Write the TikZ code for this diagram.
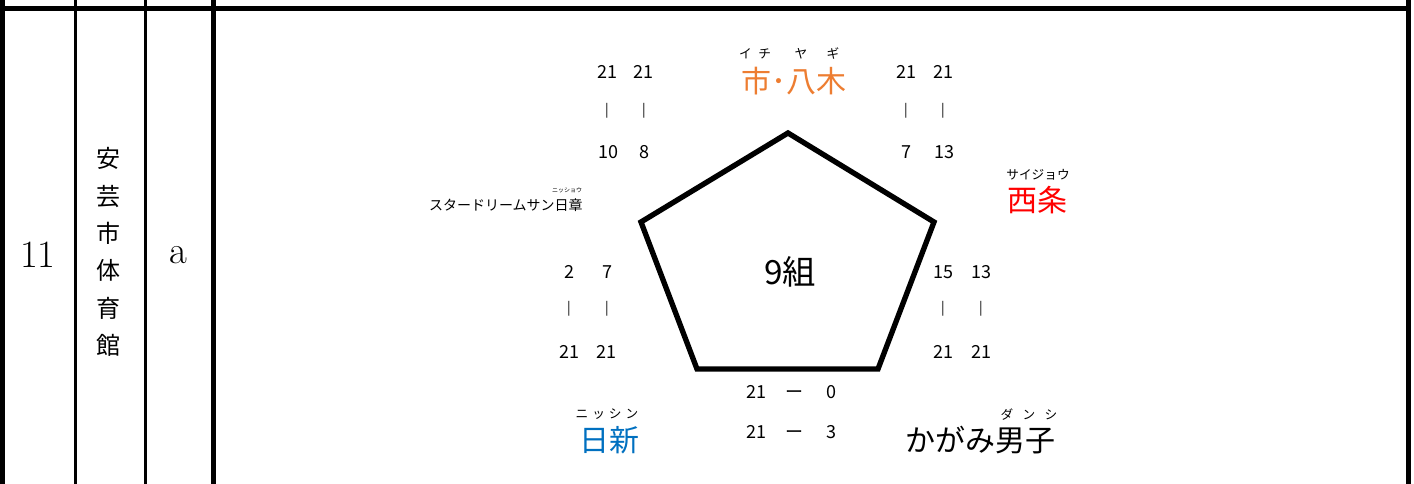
\documentclass[tikz,border=0pt]{standalone}
\usepackage{fontspec}
\newfontfamily\jpfont{Noto Sans CJK JP}
\definecolor{yagiorange}{HTML}{ED7D31}
\definecolor{saijored}{HTML}{FF0000}
\definecolor{nisshinblue}{HTML}{0070C0}
\newcommand{\rgap}[1]{\hspace{#1}}
\tikzset{%
  % Specifications for table rules and the pentagon:
            heavyrule/.style = {draw=black, line width=3.75pt},
            lightrule/.style = {draw=black, line width=2pt},
            pent/.style = {draw=black, line width=4pt, line join=miter},
  % Specifications for style of text nodes:
            cell/.style = {inner sep=0pt, font=\fontsize{29}{29}\selectfont},
            hall/.style = {inner sep=0pt, align=center,
                            font=\jpfont\fontsize{18}{28}\selectfont},
            group/.style = {inner sep=0pt, font=\jpfont\fontsize{25}{25}\selectfont},
            team/.style = {inner sep=0pt, font=\jpfont\fontsize{22.5}{22.5}\selectfont},
            smallteam/.style = {inner sep=0pt, font=\jpfont\fontsize{10.5}{10.5}\selectfont},
            ruby/.style = {inner sep=0pt, font=\jpfont\fontsize{9.5}{9.5}\selectfont},
            tinyruby/.style = {inner sep=0pt, font=\jpfont\fontsize{4.5}{4.5}\selectfont},
            score/.style = {inner sep=0pt, font=\jpfont\fontsize{13.5}{13.5}\selectfont},
            bar/.style = {inner sep=0pt, font=\jpfont\fontsize{10}{10}\selectfont}
}
\begin{document}
\begin{tikzpicture}[x=0.75pt, y=-0.75pt]
                        \useasboundingbox (0,0) rectangle (1414,484);
                        % table frame
                        \draw[heavyrule] (0,8.5) -- (1408,8.5);
                        \draw[heavyrule] (2.5,0) -- (2.5,484);
                        \draw[lightrule] (75.3,0) -- (75.3,484);
                        \draw[lightrule] (145.3,0) -- (145.3,484);
                        \draw[heavyrule] (213,0) -- (213,484);
                        \draw[heavyrule] (1408,0) -- (1408,484);
                        \node[cell] (no) at (38,255) {11};
                        \node[hall] (hall) at (108,252) {安\\芸\\市\\体\\育\\館};
                        \node[cell] (court) at (178,255) {a};
                        % pentagon
                        \coordinate (p1) at (788,133);
                        \coordinate (p2) at (934,222);
                        \coordinate (p3) at (878,369);
                        \coordinate (p4) at (697,369);
                        \coordinate (p5) at (641,222);
                        \draw[pent] (p1)--(p2)--(p3)--(p4)--(p5)--cycle;
                        \node[group] (grp) at (790,272) {9組};
                        % teams
                        \node[team, text=yagiorange] (yagi) at (794,81) {市･八木};
                        \node[ruby] (yagi-r1) at (755,54) {イ\rgap{5pt}チ};
                        \node[ruby] (yagi-r2) at (801,54) {ヤ};
                        \node[ruby] (yagi-r3) at (833,54) {ギ};
                        \node[team, text=saijored] (saijo) at (1037,200) {西条};
                        \node[ruby] (saijo-r) at (1038,175) {サイジョウ};
                        \node[smallteam, anchor=east] (star) at (583,205) {スタードリームサン日章};
                        \node[tinyruby] (star-r) at (567,190) {ニッショウ};
                        \node[team, text=nisshinblue] (nisshin) at (609,440) {日新};
                        \node[ruby] (nisshin-r) at (607,414) {ニ\rgap{3pt}ッ\rgap{3pt}シ\rgap{3pt}ン};
                        \node[team] (kagami) at (980,440) {かがみ男子};
                        \node[ruby] (kagami-r) at (1029,415) {ダ\rgap{7pt}ン\rgap{7pt}シ};
                        % scores, upper left
                        \node[score] (ul1) at (607,72) {21};
                        \node[score] (ul2) at (643,72) {21};
                        \node[bar] (ul3) at (607,111) {|};
                        \node[bar] (ul4) at (644,111) {|};
                        \node[score] (ul5) at (608,152) {10};
                        \node[score] (ul6) at (644.5,152) {8};
                        % scores, upper right
                        \node[score] (ur1) at (906,72) {21};
                        \node[score] (ur2) at (943,72) {21};
                        \node[bar] (ur3) at (906,111) {|};
                        \node[bar] (ur4) at (943,111) {|};
                        \node[score] (ur5) at (906,152) {7};
                        \node[score] (ur6) at (944,152) {13};
                        % scores, lower left
                        \node[score] (ll1) at (569.5,272) {2};
                        \node[score] (ll2) at (607.5,272) {7};
                        \node[bar] (ll3) at (569,309) {|};
                        \node[bar] (ll4) at (607,309) {|};
                        \node[score] (ll5) at (569,352) {21};
                        \node[score] (ll6) at (606.5,352) {21};
                        % scores, lower right
                        \node[score] (lr1) at (943,272) {15};
                        \node[score] (lr2) at (981,272) {13};
                        \node[bar] (lr3) at (943,309) {|};
                        \node[bar] (lr4) at (981,309) {|};
                        \node[score] (lr5) at (943,352) {21};
                        \node[score] (lr6) at (981,352) {21};
                        % scores, bottom
                        \node[score] (b1) at (756,392) {21};
                        \node[score, anchor=base] (b2) at (794.5,399) {ー};
                        \node[score] (b3) at (831,392) {0};
                        \node[score] (b4) at (756,432) {21};
                        \node[score, anchor=base] (b5) at (794.5,439) {ー};
                        \node[score] (b6) at (831,432) {3};
                    \end{tikzpicture}
\end{document}
